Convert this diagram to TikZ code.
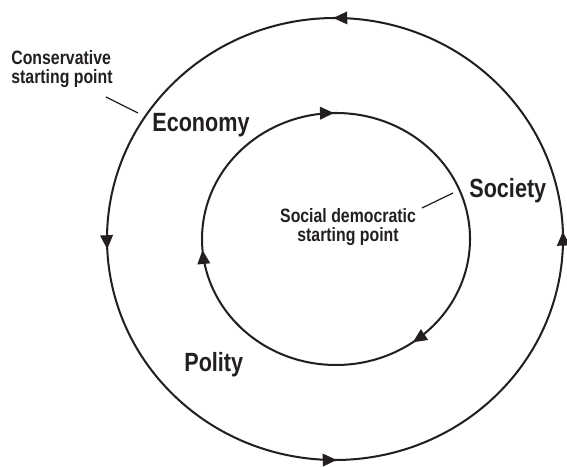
\documentclass[tikz,border=0pt]{standalone}
\usepackage{fontspec}
\setmainfont{Liberation Sans}[FakeStretch=0.82]
\usetikzlibrary{arrows.meta,decorations.markings}
\definecolor{ink}{RGB}{35,31,32}

\begin{document}
\begin{tikzpicture}[x=0.02cm,y=0.02cm,ink,
    ring/.style = {draw=ink, line width=1.15pt},
    outerflow/.style = {postaction={decorate}, decoration={markings,
        mark=at position 0.129 with {\arrow{Triangle[length=2.8mm,width=2.5mm]}},
        mark=at position 0.375 with {\arrow{Triangle[length=2.8mm,width=2.5mm]}},
        mark=at position 0.631 with {\arrow{Triangle[length=2.8mm,width=2.5mm]}},
        mark=at position 0.875 with {\arrow{Triangle[length=2.8mm,width=2.5mm]}}}},
    innerflow/.style = {postaction={decorate}, decoration={markings,
        mark=at position 0.125 with {\arrow{Triangle[length=2.8mm,width=2.5mm]}},
        mark=at position 0.528 with {\arrow{Triangle[length=2.8mm,width=2.5mm]}},
        mark=at position 0.864 with {\arrow{Triangle[length=2.8mm,width=2.5mm]}}}},
    big/.style = {inner sep=0pt, text=ink, font=\fontsize{15}{15}\selectfont\bfseries},
    small/.style = {inner sep=0pt, text=ink, font=\fontsize{11}{11}\selectfont\bfseries},
    leader/.style = {draw=ink, line width=0.7pt}]

      \useasboundingbox (0,0) rectangle (567,466);

      \coordinate (outc) at (335,227);
      \coordinate (innc) at (336,227);

      % the two cycles
      \draw[ring, outerflow] (outc) ++(-45:228 and 221)
        arc[start angle=-45, end angle=315, x radius=228, y radius=221];
      \draw[ring, innerflow] (innc) ++(135:134 and 126)
        arc[start angle=135, end angle=-225, x radius=134, y radius=126];

      \node[big, anchor=north west] at (152,353) (economy){Economy};
      \node[big, anchor=north west] at (469,288) (society){Society};
      \node[big, anchor=north west] at (184,114) (polity){Polity};

      \node[small, anchor=north west, align=left] at (11,416) (cons){Conservative\\starting point};
      \node[small, anchor=north, align=center] at (348,258) (socdem){Social democratic\\starting point};

      \coordinate (consa) at (106,369);
      \coordinate (consb) at (138,353);
      \coordinate (socda) at (422,258);
      \coordinate (socdb) at (453,273);

      \path
      (consa) edge[leader] (consb)
      (socda) edge[leader] (socdb)
      ;

    \end{tikzpicture}
\end{document}
